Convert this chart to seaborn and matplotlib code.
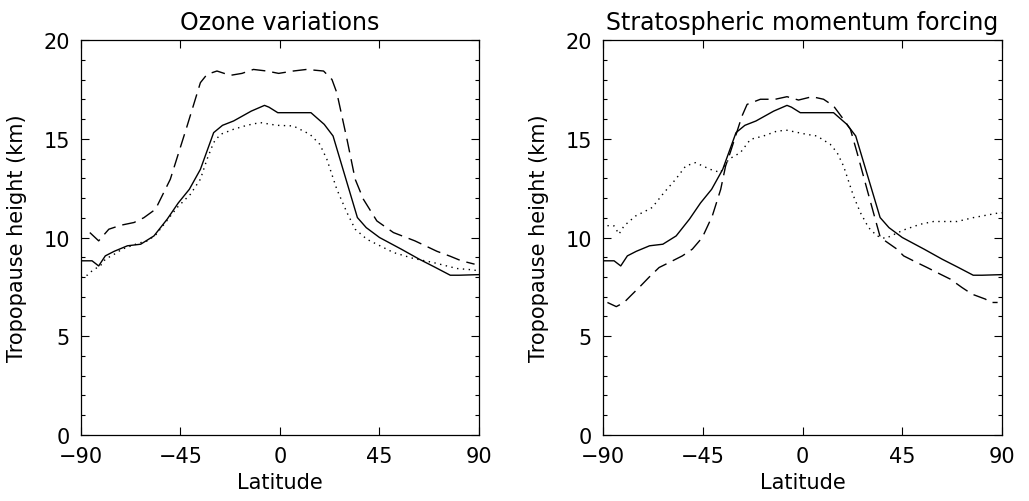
import numpy as np
import pandas as pd
import seaborn as sns
import matplotlib.pyplot as plt

# ---------------------------------------------
# Data (latitude in deg, tropopause height in km)
# ---------------------------------------------
ctl_lat = [-90, -85, -82, -79, -75, -69, -63, -57, -51, -46, -41, -36, -30, -26,
           -21, -13, -7, -5, -1, 14, 20, 24, 35, 39, 45, 55, 63, 70, 77, 81, 90]
ctl_z = [8.82, 8.82, 8.56, 9.07, 9.3, 9.58, 9.66, 10.08, 10.93, 11.75, 12.44, 13.45,
         15.31, 15.68, 15.9, 16.4, 16.69, 16.6, 16.32, 16.32, 15.73, 15.14, 11.01,
         10.5, 10.0, 9.4, 8.9, 8.5, 8.09, 8.09, 8.12]

ozone_hi_lat = [-86, -82, -77.4, -72, -66, -61.6, -56.3, -49.6, -42, -36, -33, -28.5,
                -22.5, -17.2, -12, -6, -0.6, 6, 12, 19.7, 23.5, 25.7, 30.3, 34, 37.7,
                43.8, 51.3, 61, 71, 77, 82, 88]
ozone_hi_z = [10.25, 9.83, 10.42, 10.62, 10.76, 11.0, 11.43, 12.95, 15.65, 17.84, 18.26,
              18.43, 18.21, 18.31, 18.51, 18.43, 18.31, 18.43, 18.51, 18.43, 18.0, 17.33,
              14.97, 12.95, 11.94, 10.84, 10.25, 9.83, 9.3, 9.05, 8.82, 8.65]

ozone_lo_lat = [-90, -87, -85, -81, -79, -75, -71.4, -64, -60, -56.3, -51.8, -46.5,
                -40.5, -37.5, -36, -33, -30, -27, -21, -15, -9, -1.4, 6, 13.6, 18,
                21.2, 25.7, 30.3, 34, 39.3, 51.3, 60.3, 69.4, 80, 87.4, 90]
ozone_lo_z = [7.98, 8.1, 8.31, 8.6, 8.9, 9.15, 9.41, 9.71, 9.83, 10.12, 10.76, 11.52,
              12.19, 12.7, 12.95, 13.96, 14.81, 15.22, 15.48, 15.68, 15.82, 15.68, 15.65,
              15.22, 14.72, 13.96, 12.44, 11.26, 10.42, 9.91, 9.24, 8.94, 8.73, 8.43,
              8.36, 8.3]

mom_dash_lat = [-88, -84, -80.5, -77.5, -73, -69.3, -64.7, -60.2, -54.2, -49.7, -45.2,
                -40.7, -36.9, -34.7, -32.6, -27.3, -25, -19, -12.3, -7, -1.8, 4.3, 9.5,
                14, 18.5, 21.6, 24.6, 29.1, 32.8, 35.1, 42.6, 45.6, 51.6, 56.2, 62.2,
                66.7, 71.9, 76.5, 82.5, 84.7, 88]
mom_dash_z = [6.71, 6.5, 6.71, 7.05, 7.55, 7.98, 8.48, 8.73, 9.07, 9.41, 10.0, 11.09,
              12.44, 13.62, 14.3, 16.15, 16.74, 17.0, 17.0, 17.13, 16.96, 17.13, 17.0,
              16.66, 15.98, 15.48, 14.3, 12.44, 10.93, 10.0, 9.41, 9.07, 8.73, 8.48,
              8.14, 7.89, 7.47, 7.13, 6.88, 6.71, 6.71]

mom_dot_lat = [-88, -85, -82.8, -80.5, -75.3, -71.5, -67.8, -62.5, -57.2, -52.7, -48.3,
               -41.6, -37, -33.3, -28, -23.5, -17.6, -11.5, -7, 2, 6.5, 12.5, 15.6, 18.5,
               23, 26.1, 29.8, 33.6, 37.4, 45.6, 53.1, 59.1, 69.7, 77.2, 87.8, 90]
mom_dot_z = [10.6, 10.59, 10.17, 10.59, 11.09, 11.3, 11.52, 12.27, 12.95, 13.62, 13.79,
             13.45, 13.29, 13.96, 14.3, 14.97, 15.14, 15.39, 15.43, 15.22, 15.14, 14.72,
             14.3, 13.62, 12.1, 11.26, 10.5, 10.08, 9.95, 10.38, 10.67, 10.81, 10.81,
             11.01, 11.23, 11.25]

titles = ['Ozone variations', 'Stratospheric momentum forcing']
xticks = [-90, -45, 0, 45, 90]
yticks = [0, 5, 10, 15, 20]

# ---------------------------------------------
# Plot
# ---------------------------------------------
sns.set_style('ticks')
plt.rcParams['font.family'] = ['DejaVu Sans']
plt.rcParams['text.color'] = 'black'
plt.rcParams['axes.labelcolor'] = 'black'
plt.rcParams['xtick.color'] = 'black'
plt.rcParams['ytick.color'] = 'black'

fig = plt.figure(figsize=(10.29, 5.02), dpi=100)
ax1 = fig.add_axes([0.0787, 0.1315, 0.3868, 0.7868])
ax2 = fig.add_axes([0.586, 0.1315, 0.3878, 0.7868])

solid = '-'
dashed = (0, (10, 5))
dotted = (0, (1, 3.2))

panels = [
    (ax1, [(ctl_lat, ctl_z, solid), (ozone_hi_lat, ozone_hi_z, dashed),
           (ozone_lo_lat, ozone_lo_z, dotted)]),
    (ax2, [(ctl_lat, ctl_z, solid), (mom_dash_lat, mom_dash_z, dashed),
           (mom_dot_lat, mom_dot_z, dotted)]),
]

for i, (ax, series) in enumerate(panels):
    for lat, z, ls in series:
        df = pd.DataFrame({'lat': lat, 'z': z})
        sns.lineplot(data=df, x='lat', y='z', ax=ax, color='black',
                     linewidth=1.0, linestyle=ls, sort=False)

    ax.set_xlim(-90, 90)
    ax.set_ylim(0, 20)
    ax.set_xticks(xticks)
    ax.set_xticklabels(['\u221290', '\u221245', '0', '45', '90'])
    ax.set_yticks(yticks)
    ax.set_yticks(np.arange(0, 21, 1), minor=True)
    ax.tick_params(which='both', direction='in', top=True, right=True,
                   labelsize=15, pad=8, width=0.8, color='black', labelcolor='black')
    ax.tick_params(which='major', length=6)
    ax.tick_params(which='minor', length=3)
    for s in ax.spines.values():
        s.set_visible(True)
        s.set_linewidth(0.9)
        s.set_color('black')
    ax.set_title(titles[i], fontsize=17, pad=8, color='black')
    ax.set_xlabel('Latitude', fontsize=15, labelpad=4, color='black')
    ax.set_ylabel('Tropopause height (km)', fontsize=15, labelpad=12, color='black')

fig.savefig('out.png', dpi=100)
